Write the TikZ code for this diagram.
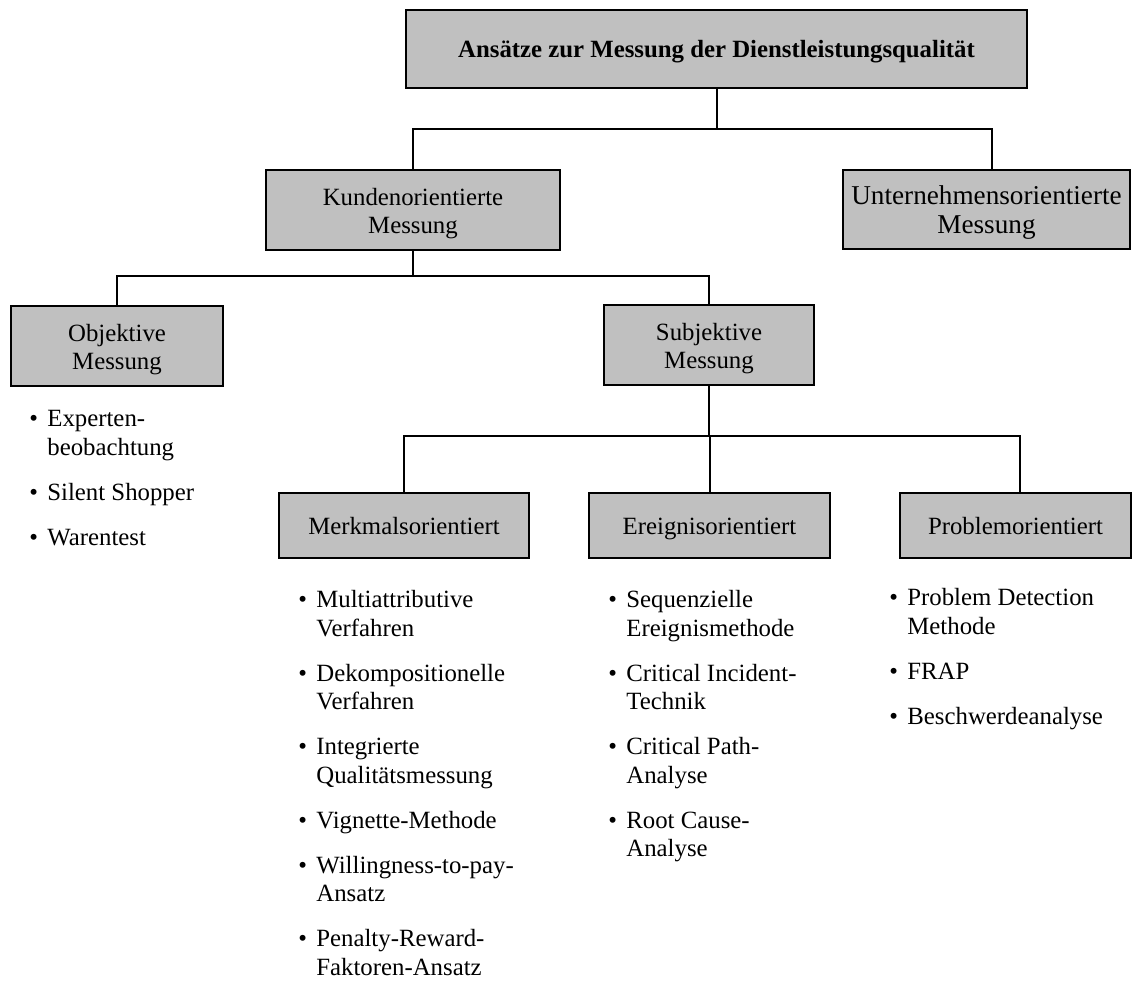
\documentclass[tikz,border=0pt]{standalone}
\usepackage{fontspec}
\setmainfont{Liberation Serif}
\definecolor{boxgray}{HTML}{C0C0C0}
\newcommand\myfs{\fontsize{12.4pt}{14.25pt}\selectfont}
\newcommand\bigfs{\fontsize{13.6pt}{14.25pt}\selectfont}
\newcommand\bul{\makebox[9pt][l]{\textbullet}}
\newcommand\lowr[1]{\raisebox{-2pt}[\height][\depth]{\begin{tabular}{@{}c@{}}#1\end{tabular}}}
\newcommand\lowone[1]{\raisebox{-1.5pt}[\height][\depth]{\strut #1}}
\begin{document}
\begin{tikzpicture}[x=0.5pt,y=-0.5pt,
  box/.style={draw, line width=1pt, fill=boxgray, align=center, inner sep=0pt, font=\myfs},
  conn/.style={line width=1pt},
  listnode/.style={anchor=base west, inner sep=0pt, font=\myfs}]
\useasboundingbox (0,0) rectangle (1133,983);

% boxes
\node[box, minimum width=310.5pt, minimum height=39pt] (top) at (716.5,49) {\lowone{\textbf{Ansätze zur Messung der Dienstleistungsqualität}}};
\node[box, minimum width=147pt, minimum height=40pt] (kunden) at (413,210) {\lowr{Kundenorientierte\\Messung}};
\node[box, minimum width=143.5pt, minimum height=39.5pt, font=\bigfs] (untern) at (986.5,209.5) {\lowr{Unternehmensorientierte\\Messung}};
\node[box, minimum width=106pt, minimum height=40pt] (obj) at (117,346) {\lowr{Objektive\\Messung}};
\node[box, minimum width=105pt, minimum height=40pt] (subj) at (709,345) {\lowr{Subjektive\\Messung}};
\node[box, minimum width=125pt, minimum height=32.5pt] (merk) at (404,525.5) {\lowone{Merkmalsorientiert}};
\node[box, minimum width=120.5pt, minimum height=32.5pt] (ereig) at (709.5,525.5) {\lowone{Ereignisorientiert}};
\node[box, minimum width=115.5pt, minimum height=32.5pt] (prob) at (1015.5,525.5) {\lowone{Problemorientiert}};

% connectors
\coordinate (j1) at (716.5,129);
\coordinate (j2) at (413,276);
\coordinate (j3) at (709,436);
\draw[conn] (top.south) -- (j1);
\draw[conn] (kunden.north) |- (j1) -| ([xshift=2.75pt]untern.north);
\draw[conn] (kunden.south) -- (j2);
\draw[conn] (obj.north) |- (j2) -| (subj.north);
\draw[conn] (subj.south) -- (j3);
\draw[conn] (merk.north) |- (j3) -| ([xshift=2.25pt]prob.north);
\draw[conn] (ereig.north) -- (ereig.north |- j3);

% lists
\node[listnode] (lobj) at (29,427) {\begin{tabular}[t]{@{}l@{}l@{}}
\bul & Experten-\\
 & beobachtung\\[8.25pt]
\bul & Silent Shopper\\[8.25pt]
\bul & Warentest
\end{tabular}};
\node[listnode] (lmerk) at (298,607.5) {\begin{tabular}[t]{@{}l@{}l@{}}
\bul & Multiattributive\\
 & Verfahren\\[8.25pt]
\bul & Dekompositionelle\\
 & Verfahren\\[8.25pt]
\bul & Integrierte\\
 & Qualitätsmessung\\[8.25pt]
\bul & Vignette-Methode\\[8.25pt]
\bul & Willingness-to-pay-\\
 & Ansatz\\[8.25pt]
\bul & Penalty-Reward-\\
 & Faktoren-Ansatz
\end{tabular}};
\node[listnode] (lereig) at (608,607.5) {\begin{tabular}[t]{@{}l@{}l@{}}
\bul & Sequenzielle\\
 & Ereignismethode\\[8.25pt]
\bul & Critical Incident-\\
 & Technik\\[8.25pt]
\bul & Critical Path-\\
 & Analyse\\[8.25pt]
\bul & Root Cause-\\
 & Analyse
\end{tabular}};
\node[listnode] (lprob) at (889,605.5) {\begin{tabular}[t]{@{}l@{}l@{}}
\bul & Problem Detection\\
 & Methode\\[8.25pt]
\bul & FRAP\\[8.25pt]
\bul & Beschwerdeanalyse
\end{tabular}};
\end{tikzpicture}
\end{document}
